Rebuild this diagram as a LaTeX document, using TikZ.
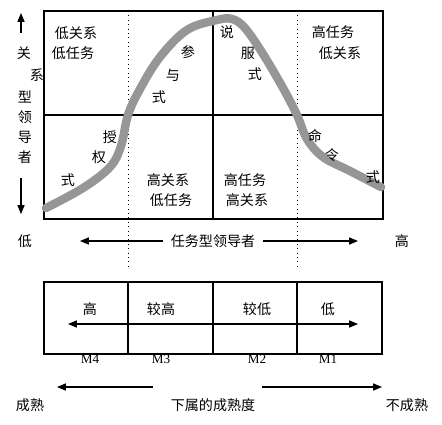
\documentclass[tikz,border=0pt]{standalone}
\usepackage{fontspec}
\setmainfont{Liberation Serif}
\newfontfamily\cjk{Noto Sans CJK SC}
\usepackage{tikz}
\usepackage{xcolor}
\usetikzlibrary{arrows.meta, positioning, calc}
\definecolor{curvegray}{RGB}{150, 150, 150}

\begin{document}
\begin{tikzpicture}[x=0.02cm, y=-0.02cm,
    lbl/.style={inner sep=0pt, font=\cjk\fontsize{8pt}{9pt}\selectfont},
    mlbl/.style={inner sep=0pt, font=\fontsize{7.5pt}{8pt}\selectfont},
    arr/.style={-{Triangle[length=5pt, width=4pt]}, line width=0.6pt},
    grid/.style={line width=0.6pt}]
  \useasboundingbox (0,0) rectangle (442,424);
  % Upper grid
  \draw[grid] (44,11) rectangle (383,219);
  \draw[grid] (44,115) -- (383,115);
  \draw[grid] (213,11) -- (213,219);
  % Dotted guides
  \foreach \x in {128, 297} {
    \draw[dotted, line width=0.5pt] (\x,11) -- (\x,270);
  }
  % Curve
  \draw[curvegray, line width=4.8pt, line cap=round] plot[smooth, tension=0.6] coordinates {
    (46,208) (83,188) (110,167) (121,146) (128,115) (140,89) (160,57)
    (187,30) (217,20) (232,19) (245,28) (263,54) (283,88) (297,115)
    (307,139) (323,157) (350,171) (381,187)};
  % Quadrant labels
  \node[lbl] (q1a) at (76,33) {低关系};
  \node[lbl] (q1b) at (73,53) {低任务};
  \node[lbl] (q2a) at (168,180) {高关系};
  \node[lbl] (q2b) at (171,200) {低任务};
  \node[lbl] (q3a) at (245,180) {高任务};
  \node[lbl] (q3b) at (247,200) {高关系};
  \node[lbl] (q4a) at (333,32) {高任务};
  \node[lbl] (q4b) at (340,53) {低关系};
  % Style labels along the curve
  \foreach \t/\x/\y [count=\i] in {授/110/137, 权/99/157, 式/68/180,
      参/188/52, 与/173/75, 式/159/97, 说/227/32, 服/248/53, 式/255/74,
      命/315/136, 令/332/155, 式/373/177} {
    \node[lbl] (c\i) at (\x,\y) {\t};
  }
  % Vertical axis
  \foreach \t/\x/\y [count=\i] in {关/24/53, 系/37/75, 型/25/97, 领/25/117, 导/25/137, 者/25/157} {
    \node[lbl] (v\i) at (\x,\y) {\t};
  }
  \coordinate (vtop) at (21,13);
  \coordinate (vbot) at (21,214);
  \draw[arr] ($(v1)+(-3,-20)$) -- (vtop);
  \draw[arr] ($(v6)+(-4,21)$) -- (vbot);
  % Horizontal axis
  \node[lbl] (low) at (25,241) {低};
  \node[lbl] (high) at (402,241) {高};
  \node[lbl, fill=white, inner xsep=4pt] (task) at (213,241) {任务型领导者};
  \coordinate (tl) at (80,241);
  \coordinate (tr) at (358,241);
  \draw[arr] (task.west) -- (tl);
  \draw[arr] (task.east) -- (tr);
  % Maturity box
  \draw[grid, fill=white] (44,282) rectangle (382,354);
  \foreach \x in {128, 213, 297} {
    \draw[grid] (\x,282) -- (\x,354);
  }
  \coordinate (ml) at (68,324);
  \coordinate (mr) at (358,324);
  \draw[arr, {Triangle[length=5pt, width=4pt]}-{Triangle[length=5pt, width=4pt]}] (ml) -- (mr);
  \foreach \t/\m/\x [count=\i] in {高/M4/90, 较高/M3/161, 较低/M2/257, 低/M1/328} {
    \node[lbl] (r\i) at (\x,309) {\t};
    \node[mlbl] (m\i) at (\x,359) {\m};
  }
  % Maturity axis
  \node[lbl] (mature) at (30,405) {成熟};
  \node[lbl] (matlevel) at (213,405) {下属的成熟度};
  \node[lbl] (immature) at (407,405) {不成熟};
  \coordinate (al) at (57,387);
  \coordinate (ar) at (382,387);
  \coordinate (alin) at (153,387);
  \coordinate (arin) at (262,387);
  \draw[arr] (alin) -- (al);
  \draw[arr] (arin) -- (ar);
\end{tikzpicture}
\end{document}
